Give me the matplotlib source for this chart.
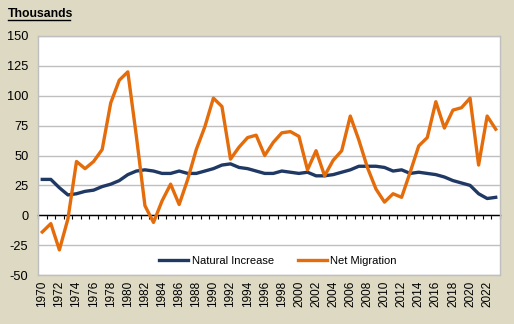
import matplotlib
matplotlib.use("Agg")
import matplotlib.pyplot as plt
from matplotlib.lines import Line2D

years = list(range(1970, 2024))
natural_increase = [30, 30, 23, 17, 18, 20, 21, 24, 26, 29,
                    34, 37, 38, 37, 35, 35, 37, 35, 35, 37,
                    39, 42, 43, 40, 39, 37, 35, 35, 37, 36,
                    35, 36, 33, 33, 34, 36, 38, 41, 41, 41,
                    40, 37, 38, 35, 36, 35, 34, 32, 29, 27,
                    25, 18, 14, 15]
net_migration = [-14, -7, -29, -3, 45, 39, 45, 55, 94, 113,
                 120, 66, 8, -6, 12, 26, 9, 30, 55, 74,
                 98, 91, 47, 57, 65, 67, 50, 61, 69, 70,
                 66, 38, 54, 33, 46, 54, 83, 63, 40, 22,
                 11, 18, 15, 36, 58, 65, 95, 73, 88, 90,
                 98, 42, 83, 72]
y_ticks = [-50, -25, 0, 25, 50, 75, 100, 125, 150]
x_label_years = list(range(1970, 2023, 2))

plt.rcParams['font.family'] = ['Liberation Sans', 'DejaVu Sans']

BG = '#DDD9C3'
NAVY = '#1F3864'
ORANGE = '#E46C0A'
GRID = '#BFBFBF'

fig = plt.figure(figsize=(5.14, 3.24), dpi=100, facecolor=BG)
ax = fig.add_axes([38/514, 1 - 275/324, (500-38)/514, (275-36)/324])
ax.set_facecolor('white')

ax.plot(years, natural_increase, color=NAVY, lw=2.4, label='Natural Increase', zorder=3,
        solid_joinstyle='round')
ax.plot(years, net_migration, color=ORANGE, lw=2.4, label='Net Migration', zorder=3,
        solid_joinstyle='round')

ax.set_xlim(years[0] - 0.5, years[-1] + 0.5)
ax.set_ylim(-50, 150)
ax.set_yticks(y_ticks)
ax.set_yticklabels([str(v) for v in y_ticks], fontsize=9.2)
ax.tick_params(axis='y', length=0, pad=7)
ax.yaxis.grid(True, color=GRID, lw=1)
ax.set_axisbelow(True)

# bottom spine at zero with category-boundary ticks
ax.spines['bottom'].set_position(('data', 0))
ax.spines['bottom'].set_color('black')
ax.spines['bottom'].set_linewidth(1)
ax.spines['bottom'].set_zorder(2)
ax.set_xticks([y - 0.5 for y in years] + [years[-1] + 0.5])
ax.tick_params(axis='x', direction='out', length=3, width=0.8, color='black', labelbottom=False)
for s in ['top', 'right', 'left']:
    ax.spines[s].set_color(GRID)
    ax.spines[s].set_linewidth(1)

sec = ax.secondary_xaxis(0)
sec.set_xticks(x_label_years)
sec.set_xticklabels([str(y) for y in x_label_years], rotation=90, fontsize=8.5)
sec.tick_params(length=0, pad=4)
sec.spines['bottom'].set_color(GRID)
sec.spines['bottom'].set_linewidth(1)

leg = ax.legend(loc='center', bbox_to_anchor=(0.52, 0.06), ncol=2, frameon=False,
                fontsize=8, handlelength=2.6, handletextpad=0.3, columnspacing=2.2)

fig.text(8/514, 1 - 14/324, 'Thousands', fontsize=8.8, fontweight='bold', va='center', ha='left')
fig.add_artist(Line2D([8/514, 70/514], [1 - 19.5/324, 1 - 19.5/324], color='black', lw=1))

fig.savefig('out.png', dpi=100, facecolor=BG)
